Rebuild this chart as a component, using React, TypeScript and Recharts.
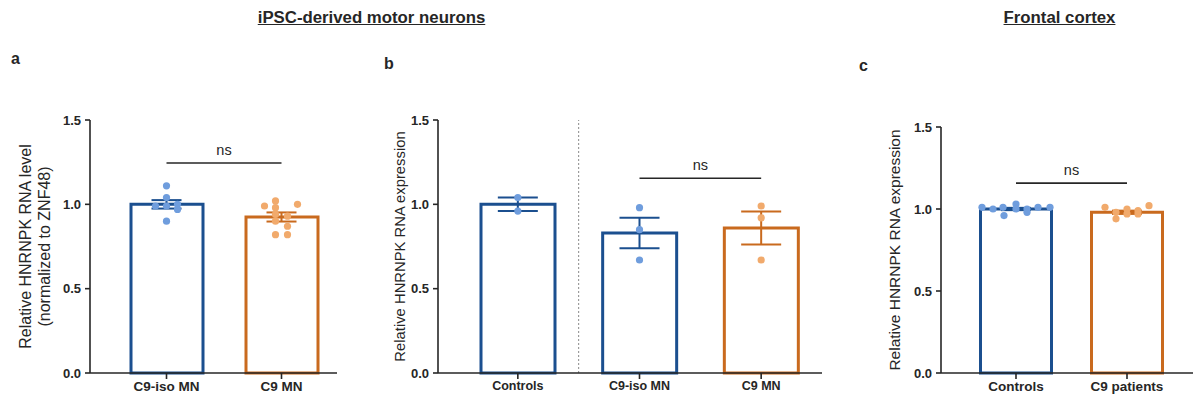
import React from 'react';
import {
  ComposedChart,
  Bar,
  Cell,
  ErrorBar,
  Scatter,
  XAxis,
  YAxis,
  ReferenceLine,
} from 'recharts';

const BLUE = '#1b4f8f';
const ORANGE = '#c96a1e';
const BLUE_DOT = '#6f9ddd';
const ORANGE_DOT = '#f1aa6c';
const INK = '#262626';
const FONT = '"Liberation Sans", Arial, sans-serif';

const yTicks = [0, 0.5, 1, 1.5];

// panel a - iPSC MN, normalized to ZNF48
const aGroups = ['C9-iso MN', 'C9 MN'];
const aMeans = [1.0, 0.925];
const aSem = [0.025, 0.027];
const aIsoPoints = [1.11, 1.04, 1.0, 0.99, 0.99, 0.97, 0.9];
const aC9Points = [1.02, 1.0, 0.99, 0.98, 0.94, 0.93, 0.9, 0.87, 0.82, 0.82];
const aIsoJitter = [0, 0, 11, -11, 0, 11, 0];
const aC9Jitter = [-6, 16, -17, -6, -6, 6, -6, 6, -6, 6];
const aSig = 1.245;

// panel b - iPSC MN expression
const bGroups = ['Controls', 'C9-iso MN', 'C9 MN'];
const bMeans = [1.0, 0.83, 0.86];
const bSem = [0.04, 0.09, 0.098];
const bCtrlPoints = [1.04, 0.96];
const bIsoPoints = [0.98, 0.85, 0.67];
const bC9Points = [0.99, 0.92, 0.67];
const bSig = 1.155;

// panel c - frontal cortex
const cGroups = ['Controls', 'C9 patients'];
const cMeans = [1.0, 0.98];
const cSem = [0.007, 0.01];
const cCtrlPoints = [1.01, 1.0, 1.01, 0.96, 1.03, 1.0, 0.98, 1.0, 1.01, 1.01];
const cC9Points = [1.01, 0.94, 1.0, 0.97, 0.99, 0.98, 1.02, 0.97];
const cCtrlJitter = [-34, -23, -13, -12, 0, 0, 11, 11, 22, 34];
const cC9Jitter = [-22, -11, 0, 0, 11, -11, 22, 11];
const cSig = 1.158;

type Group = {
  name: string;
  mean: number;
  sem: number;
  points: number[];
  jitter?: number[];
  color: string;
  dot: string;
};

type PanelProps = {
  left: number;
  width: number;
  top: number;
  axisWidth: number;
  padLeft: number;
  padRight: number;
  barSize: number;
  capWidth: number;
  groups: Group[];
  sig: number;
  sigFrom: string;
  sigTo: string;
  titleLines: string[];
  titleX: number;
  titleSize: number;
  tickSize: number;
  xTickSize: number;
  divider?: string;
};

const dotShape = (data: any[], jitter: number[] | undefined, fill: string) => (p: any) => {
  let i = data.indexOf(p.payload);
  if (i < 0) i = p.index ?? 0;
  const dx = jitter ? jitter[i] || 0 : 0;
  return <circle cx={p.cx + dx} cy={p.cy} r={3.6} fill={fill} />;
};

const Panel = (props: PanelProps) => {
  const { groups } = props;
  const rows = groups.map((g) => ({ name: g.name, mean: g.mean, sem: g.sem }));

  const yTitle = (lp: any) => {
    const vb = lp.viewBox || {};
    const cy = vb.y + vb.height / 2;
    const n = props.titleLines.length;
    const step = props.titleSize * 1.15;
    return (
      <g>
        {props.titleLines.map((t, k) => {
          const x = props.titleX + (k - (n - 1) / 2) * step;
          return (
            <text
              key={k}
              x={x}
              y={cy}
              transform={`rotate(-90 ${x} ${cy})`}
              textAnchor="middle"
              dominantBaseline="central"
              fontSize={props.titleSize}
              fontFamily={FONT}
              fill={INK}
            >
              {t}
            </text>
          );
        })}
      </g>
    );
  };

  return (
    <div style={{ position: 'absolute', left: props.left, top: 0 }}>
      <ComposedChart
        width={props.width}
        height={403}
        data={rows}
        margin={{ top: props.top, right: 0, bottom: 0, left: 0 }}
      >
        <XAxis
          dataKey="name"
          type="category"
          allowDuplicatedCategory={false}
          height={403 - 373}
          padding={{ left: props.padLeft, right: props.padRight }}
          axisLine={{ stroke: INK, strokeWidth: 1.6 }}
          tickLine={{ stroke: INK, strokeWidth: 1.6 }}
          tickSize={6}
          tickMargin={2}
          tick={{ fill: INK, fontSize: props.xTickSize, fontWeight: 700, fontFamily: FONT }}
          interval={0}
        />
        <YAxis
          type="number"
          domain={[0, 1.5]}
          ticks={yTicks}
          width={props.axisWidth}
          axisLine={{ stroke: INK, strokeWidth: 1.6 }}
          tickLine={{ stroke: INK, strokeWidth: 1.6 }}
          tickSize={5}
          tickMargin={4}
          tickFormatter={(v: number) => v.toFixed(1)}
          tick={{ fill: INK, fontSize: props.tickSize, fontWeight: 700, fontFamily: FONT }}
          label={{ content: yTitle }}
        />
        {props.divider && (
          <ReferenceLine
            x={props.divider}
            position="end"
            stroke="#8a8a8a"
            strokeWidth={1}
            strokeDasharray="2 2"
          />
        )}
        <Bar dataKey="mean" barSize={props.barSize} isAnimationActive={false}>
          {groups.map((g) => (
            <Cell key={g.name} fill="#ffffff" stroke={g.color} strokeWidth={3} />
          ))}
        </Bar>
        {groups.map((g) => {
          const pts = g.points.map((v) => ({ name: g.name, value: v }));
          return (
            <Scatter
              key={`pts-${g.name}`}
              data={pts}
              dataKey="value"
              isAnimationActive={false}
              shape={dotShape(pts, g.jitter, g.dot)}
            />
          );
        })}
        {groups.map((g) => (
          <Scatter
            key={`err-${g.name}`}
            data={[{ name: g.name, value: g.mean, sem: g.sem }]}
            dataKey="value"
            isAnimationActive={false}
            shape={() => <g />}
          >
            <ErrorBar
              dataKey="sem"
              direction="y"
              width={props.capWidth}
              stroke={g.color}
              strokeWidth={2}
            />
          </Scatter>
        ))}
        <ReferenceLine
          segment={[
            { x: props.sigFrom, y: props.sig },
            { x: props.sigTo, y: props.sig },
          ]}
          stroke={INK}
          strokeWidth={1.6}
          label={{
            value: 'ns',
            position: 'top',
            offset: 8,
            fill: INK,
            fontSize: 14.5,
            fontFamily: FONT,
          }}
        />
      </ComposedChart>
    </div>
  );
};

const heading = (text: string, cx: number): React.ReactNode => (
  <div
    style={{
      position: 'absolute',
      left: cx,
      top: 9,
      transform: 'translateX(-50%)',
      fontFamily: FONT,
      fontWeight: 700,
      fontSize: 16.8,
      lineHeight: '18px',
      textDecoration: 'underline',
      color: INK,
      whiteSpace: 'nowrap',
    }}
  >
    {text}
  </div>
);

const letter = (text: string, x: number, y: number): React.ReactNode => (
  <div
    style={{
      position: 'absolute',
      left: x,
      top: y,
      fontFamily: FONT,
      fontWeight: 700,
      fontSize: 16,
      lineHeight: '16px',
      color: INK,
    }}
  >
    {text}
  </div>
);

export default function App() {
  const aData: Group[] = [
    { name: aGroups[0], mean: aMeans[0], sem: aSem[0], points: aIsoPoints, jitter: aIsoJitter, color: BLUE, dot: BLUE_DOT },
    { name: aGroups[1], mean: aMeans[1], sem: aSem[1], points: aC9Points, jitter: aC9Jitter, color: ORANGE, dot: ORANGE_DOT },
  ];
  const bData: Group[] = [
    { name: bGroups[0], mean: bMeans[0], sem: bSem[0], points: bCtrlPoints, color: BLUE, dot: BLUE_DOT },
    { name: bGroups[1], mean: bMeans[1], sem: bSem[1], points: bIsoPoints, color: BLUE, dot: BLUE_DOT },
    { name: bGroups[2], mean: bMeans[2], sem: bSem[2], points: bC9Points, color: ORANGE, dot: ORANGE_DOT },
  ];
  const cData: Group[] = [
    { name: cGroups[0], mean: cMeans[0], sem: cSem[0], points: cCtrlPoints, jitter: cCtrlJitter, color: BLUE, dot: BLUE_DOT },
    { name: cGroups[1], mean: cMeans[1], sem: cSem[1], points: cC9Points, jitter: cC9Jitter, color: ORANGE, dot: ORANGE_DOT },
  ];

  return (
    <div
      style={{
        position: 'absolute',
        left: 0,
        top: 0,
        width: 1202,
        height: 403,
        background: '#ffffff',
        overflow: 'hidden',
      }}
    >
      {heading('iPSC-derived motor neurons', 371.5)}
      {heading('Frontal cortex', 1059.5)}
      {letter('a', 11, 51)}
      {letter('b', 384, 56)}
      {letter('c', 859, 58)}

      <Panel
        left={0}
        width={337}
        top={120}
        axisWidth={90}
        padLeft={19}
        padRight={-2}
        barSize={72}
        capWidth={15}
        groups={aData}
        sig={aSig}
        sigFrom={aGroups[0]}
        sigTo={aGroups[1]}
        titleLines={['Relative HNRNPK RNA level', '(normalized to ZNF48)']}
        titleX={35}
        titleSize={16}
        tickSize={13}
        xTickSize={13.5}
      />
      <Panel
        left={340}
        width={482}
        top={120}
        axisWidth={98}
        padLeft={19}
        padRight={0}
        barSize={74}
        capWidth={20}
        groups={bData}
        sig={bSig}
        sigFrom={bGroups[1]}
        sigTo={bGroups[2]}
        titleLines={['Relative HNRNPK RNA expression']}
        titleX={60}
        titleSize={14.8}
        tickSize={13}
        xTickSize={12.5}
        divider={bGroups[0]}
      />
      <Panel
        left={850}
        width={343}
        top={127}
        axisWidth={91}
        padLeft={19.5}
        padRight={10.5}
        barSize={71}
        capWidth={15}
        groups={cData}
        sig={cSig}
        sigFrom={cGroups[0]}
        sigTo={cGroups[1]}
        titleLines={['Relative HNRNPK RNA expression']}
        titleX={44}
        titleSize={15.5}
        tickSize={13}
        xTickSize={13.5}
      />
    </div>
  );
}
